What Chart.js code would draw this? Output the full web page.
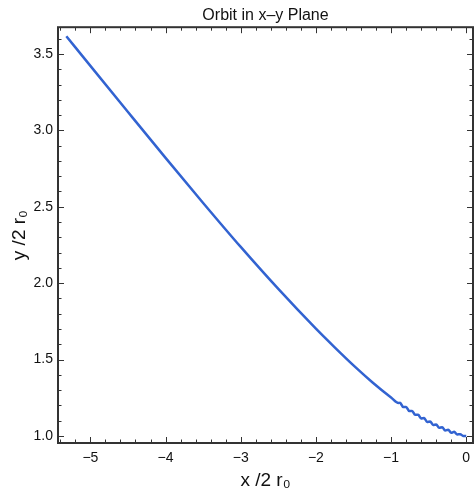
<!DOCTYPE html>
<html>
<head>
<meta charset="utf-8">
<script src="https://cdn.jsdelivr.net/npm/chart.js@4.4.1/dist/chart.umd.min.js"></script>
<style>
  html, body { margin: 0; padding: 0; background: #fff; }
  #wrap { width: 474px; height: 497px; }
</style>
</head>
<body>
<div id="wrap"><canvas id="chart"></canvas></div>
<script>
// Bahn in der x-y Ebene
const orbitX = [-5.32, -5.0, -4.5, -4.0, -3.5, -3.0, -2.5, -2.0, -1.75, -1.5, -1.25, -1.0, -0.9,
  -0.88, -0.84, -0.80, -0.76, -0.72, -0.68, -0.64, -0.60, -0.56, -0.52, -0.48, -0.44,
  -0.40, -0.36, -0.32, -0.28, -0.24, -0.20, -0.16, -0.12, -0.08, -0.04, 0.0];
const orbitY = [3.616, 3.422, 3.12, 2.82, 2.525, 2.237, 1.962, 1.702, 1.58, 1.462, 1.352, 1.252, 1.216,
  1.217, 1.190, 1.190, 1.164, 1.164, 1.139, 1.139, 1.115, 1.117, 1.092, 1.095, 1.072,
  1.075, 1.053, 1.057, 1.036, 1.041, 1.021, 1.027, 1.010, 1.011, 1.000, 0.999];

const xTicks = [-5, -4, -3, -2, -1, 0];
const yTicks = [1.0, 1.5, 2.0, 2.5, 3.0, 3.5];

const FONT = "'Liberation Sans', Arial, Helvetica, sans-serif";
const AXIS_COLOR = '#333';

// Rahmen + Ticks (innen, auf allen vier Seiten)
const framePlugin = {
  id: 'frame',
  afterDraw(chart) {
    const { ctx, chartArea: a, scales: { x, y } } = chart;
    ctx.save();
    ctx.strokeStyle = AXIS_COLOR;
    ctx.lineWidth = 1;
    ctx.beginPath();
    for (let v = Math.ceil(x.min / 0.2) * 0.2; v <= x.max + 1e-9; v += 0.2) {
      const major = Math.abs(v - Math.round(v)) < 1e-6;
      const len = major ? 6 : 3.5;
      const px = Math.round(x.getPixelForValue(v)) + 0.5;
      ctx.moveTo(px, a.bottom); ctx.lineTo(px, a.bottom - len);
      ctx.moveTo(px, a.top); ctx.lineTo(px, a.top + len);
    }
    for (let v = Math.ceil(y.min / 0.1) * 0.1; v <= y.max + 1e-9; v += 0.1) {
      const major = Math.abs(v * 2 - Math.round(v * 2)) < 1e-6;
      const len = major ? 6 : 3.5;
      const py = Math.round(y.getPixelForValue(v)) + 0.5;
      ctx.moveTo(a.left, py); ctx.lineTo(a.left + len, py);
      ctx.moveTo(a.right, py); ctx.lineTo(a.right - len, py);
    }
    ctx.stroke();
    ctx.lineWidth = 2;
    ctx.strokeRect(a.left, a.top, a.right - a.left, a.bottom - a.top);
    ctx.restore();
  }
};

const fmt = v => (v < 0 ? '\u2212' + Math.abs(v) : String(v));

new Chart(document.getElementById('chart').getContext('2d'), {
  type: 'line',
  data: {
    datasets: [{
      label: 'Orbit',
      data: orbitX.map((xv, i) => ({ x: xv, y: orbitY[i] })),
      borderColor: '#3263d1',
      borderWidth: 2.5,
      pointRadius: 0,
      cubicInterpolationMode: 'monotone',
      fill: false
    }]
  },
  options: {
    responsive: true,
    maintainAspectRatio: false,
    animation: false,
    layout: { padding: { left: 0, right: 1, top: 0, bottom: 0 } },
    plugins: {
      legend: { display: false },
      tooltip: { enabled: false },
      title: {
        display: true,
        fullSize: false,
        text: 'Orbit in x\u2013y Plane',
        color: '#111',
        font: { family: FONT, size: 16, weight: 'normal' },
        padding: { top: 6, bottom: 2 }
      }
    },
    scales: {
      x: {
        type: 'linear',
        min: -5.431,
        max: 0.09,
        grid: { display: false, drawTicks: false },
        border: { display: false },
        afterBuildTicks: s => { s.ticks = xTicks.map(v => ({ value: v })); },
        afterFit: s => { s.height = 54; s.paddingLeft = 0; s.paddingRight = 0; },
        ticks: {
          color: '#111',
          font: { family: FONT, size: 14 },
          padding: 7,
          maxRotation: 0,
          callback: v => fmt(v)
        },
        title: {
          display: true,
          text: 'x /2 r\u2080',
          color: '#111',
          font: { family: FONT, size: 19 },
          padding: { top: 0, bottom: 5 }
        }
      },
      y: {
        type: 'linear',
        min: 0.954,
        max: 3.675,
        grid: { display: false, drawTicks: false },
        border: { display: false },
        afterBuildTicks: s => { s.ticks = yTicks.map(v => ({ value: v })); },
        afterFit: s => { s.width = 58; s.paddingTop = 0; s.paddingBottom = 0; },
        ticks: {
          color: '#111',
          font: { family: FONT, size: 14 },
          padding: 5,
          callback: v => v.toFixed(1)
        },
        title: {
          display: true,
          text: 'y /2 r\u2080',
          color: '#111',
          font: { family: FONT, size: 19 },
          padding: { top: 8, bottom: 0 }
        }
      }
    }
  },
  plugins: [framePlugin]
});
</script>
</body>
</html>
